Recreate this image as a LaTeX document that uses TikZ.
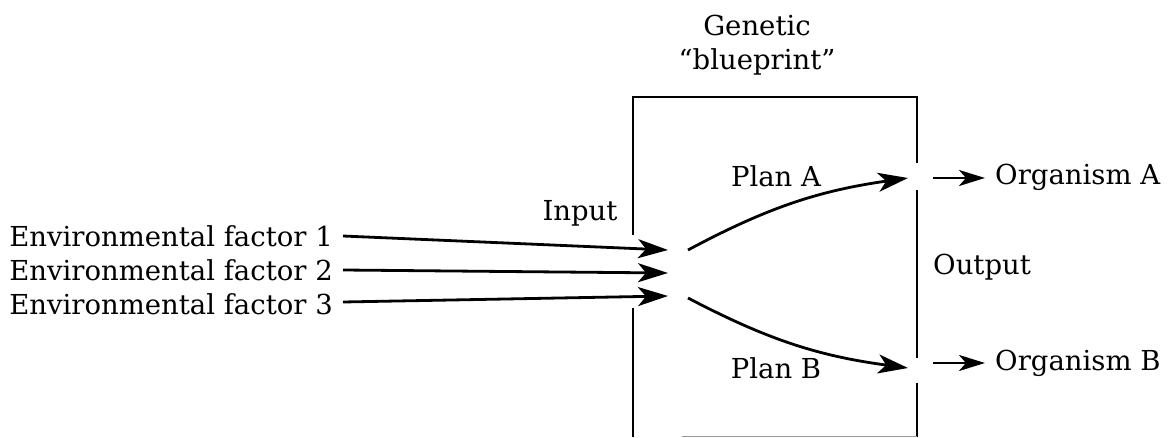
\documentclass[tikz,border=0pt]{standalone}
\usepackage{fontspec}
\setmainfont{DejaVu Serif}
\usetikzlibrary{arrows.meta}
\begin{document}
\begin{tikzpicture}[x=1pt,y=-1pt,
  lbl/.style={inner sep=0pt, font=\fontsize{27.5}{32}\selectfont},
  arr/.style={line width=2.8pt, -{Stealth[length=30pt,width=19pt,inset=8pt]}},
  smallarr/.style={line width=2.8pt, shorten >=10pt, -{Stealth[length=26pt,width=16pt,inset=7pt]}},
  wall/.style={line width=2.8pt}]
\useasboundingbox (0,0) rectangle (1176,438);
% box
\draw[wall] (633,437) -- (633,308);
\draw[wall] (633,235) -- (633,97) -- (917,97) -- (917,163);
\draw[wall] (917,190) -- (917,358);
\draw[wall] (917,383) -- (917,437);
\draw[line width=1pt, black!40] (682,436.5) -- (917,436.5);
% labels
\node[lbl] (gen) at (757,25) {Genetic};
\node[lbl] (blue) at (757,62) {“blueprint”};
\node[lbl] (input) at (580,213) {Input};
\node[lbl, anchor=east] (f1) at (333,236) {Environmental factor 1};
\node[lbl, anchor=east] (f2) at (333,270) {Environmental factor 2};
\node[lbl, anchor=east] (f3) at (333,304) {Environmental factor 3};
\node[lbl] (pa) at (776,176) {Plan A};
\node[lbl] (pb) at (776,368) {Plan B};
\node[lbl, anchor=west] (out) at (933,267) {Output};
\node[lbl, anchor=west] (oa) at (995,177) {Organism A};
\node[lbl, anchor=west] (ob) at (995,363) {Organism B};
% coordinates
\coordinate (t1) at (668,250);
\coordinate (t2) at (668,273);
\coordinate (t3) at (668,296);
\coordinate (sa) at (688,250);
\coordinate (sb) at (688,298);
\coordinate (ea) at (908,178);
\coordinate (eb) at (908,368);
\coordinate (oas) at (933,178);
\coordinate (obs) at (933,363);
% connectors
\draw[arr] ([xshift=10pt,yshift=0pt]f1.east) -- (t1);
\draw[arr] ([xshift=10pt]f2.east) -- (t2);
\draw[arr] ([xshift=10pt,yshift=2pt]f3.east) -- (t3);
\draw[arr] (sa) to[bend left=10] (ea);
\draw[arr] (sb) to[bend right=10] (eb);
\draw[smallarr] (oas) -- (oa.west |- oas);
\draw[smallarr] (obs) -- (ob.west |- obs);
\end{tikzpicture}
\end{document}
